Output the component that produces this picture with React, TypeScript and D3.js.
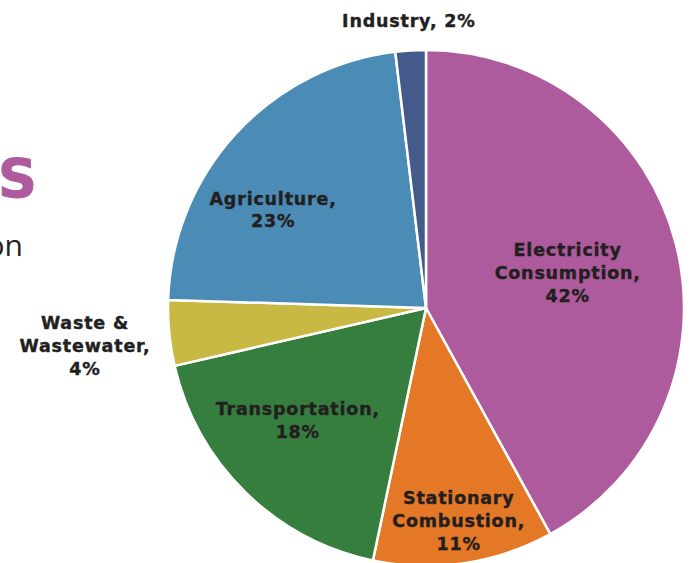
import React from "react";
import * as d3 from "d3";

const categories = [
  "Electricity Consumption",
  "Stationary Combustion",
  "Transportation",
  "Waste & Wastewater",
  "Agriculture",
  "Industry",
];
const values = [42.0, 11.3, 18.1, 4.1, 22.6, 1.9];
const percentLabels = ["42%", "11%", "18%", "4%", "23%", "2%"];
const labelLines = [
  ["Electricity", "Consumption,", "42%"],
  ["Stationary", "Combustion,", "11%"],
  ["Transportation,", "18%"],
  ["Waste &", "Wastewater,", "4%"],
  ["Agriculture,", "23%"],
  ["Industry, 2%"],
];
const colors = ["#AE5B9E", "#E47826", "#367E3E", "#C8B944", "#4A8CB6", "#435A8B"];

// label placement: radius as fraction of pie radius, angle shift in degrees
const labelRadius = [0.566, 0.833, 0.66, 1.33, 0.705, 1.116];
const labelShift = [0.4, -0.3, 4.4, -0.7, -9.7, 0];

const W = 694;
const H = 563;
const cx = 426;
const cy = 308;
const R = 258;
const lineH = 22.8;

export default function App() {
  const pie = d3
    .pie<number>()
    .sort(null)
    .value((d) => d)
    .startAngle(0)
    .endAngle(2 * Math.PI);
  const arcs = pie(values);
  const arc = d3.arc<d3.PieArcDatum<number>>().innerRadius(0).outerRadius(R);

  return (
    <svg
      width={W}
      height={H}
      style={{ position: "absolute", left: 0, top: 0, background: "#fff" }}
    >
      <text
        x={37}
        y={197}
        textAnchor="end"
        fontFamily="DejaVu Sans"
        fontWeight="bold"
        fontSize={54}
        fill="#AE5B9E"
        stroke="#AE5B9E"
        strokeWidth={1}
      >
        US
      </text>
      <text
        x={23}
        y={256}
        textAnchor="end"
        fontFamily="Open Sans"
        fontSize={30}
        fill="#231F20"
      >
        on
      </text>
      <g transform={`translate(${cx},${cy})`}>
        {arcs.map((a, i) => (
          <path
            key={categories[i]}
            d={arc(a) || ""}
            fill={colors[i]}
            stroke="#fff"
            strokeWidth={2.5}
            strokeLinejoin="round"
          />
        ))}
        {arcs.map((a, i) => {
          const mid = (a.startAngle + a.endAngle) / 2 + (labelShift[i] * Math.PI) / 180;
          const r = labelRadius[i] * R;
          const x = r * Math.sin(mid);
          const y = -r * Math.cos(mid);
          const lines = labelLines[i];
          const n = lines.length;
          return (
            <text
              key={"l" + i}
              textAnchor="middle"
              fontFamily="DejaVu Sans"
              fontWeight="bold"
              fontSize={17.5}
              letterSpacing={0.8}
              fill="#231F20"
              stroke="#231F20"
              strokeWidth={0.4}
            >
              {lines.map((ln, j) => (
                <tspan key={j} x={x} y={y + (j - (n - 1) / 2) * lineH + 6.5}>
                  {ln}
                </tspan>
              ))}
            </text>
          );
        })}
      </g>
    </svg>
  );
}
